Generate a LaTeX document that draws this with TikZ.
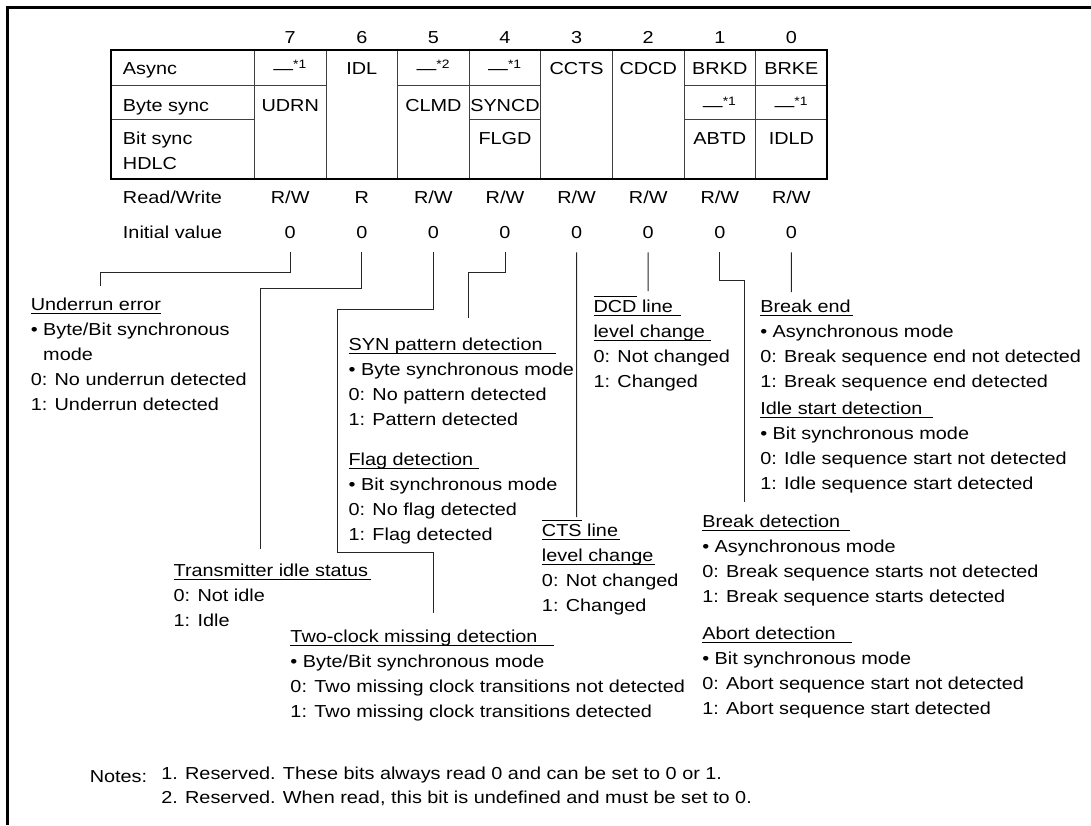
\documentclass[tikz,border=0pt]{standalone}
\usepackage{fontspec}
\setmainfont[FakeStretch=1.145]{Liberation Sans}

% underlined heading, optional extra length of the rule
\newcommand{\hd}[2][0pt]{\setbox0\hbox{#2}\rlap{\rule[-2.8pt]{\dimexpr\wd0+#1\relax}{0.6pt}}\box0\relax}
% overlined signal name
\newcommand{\ovl}[1]{\setbox0\hbox{#1}\rlap{\rule[\dimexpr\ht0+2.6pt\relax]{\wd0}{0.6pt}}\box0\relax}
% reserved bit
\newcommand{\resv}[1]{—\textsuperscript{*#1}}

\begin{document}
\begin{tikzpicture}[x=0.75pt,y=-0.75pt,
    every node/.style={inner sep=0pt,font=\fontsize{13}{18.75}\selectfont},
    cell/.style={anchor=base},
    rowlabel/.style={anchor=base west,align=left},
    desc/.style={anchor=base west,align=left},
    cellline/.style={line width=0.6pt,black!75},
    leader/.style={line width=0.75pt,black!85}]
    \useasboundingbox (0,0) rectangle (1091,825);

    % marco
    \draw[line width=2.3pt] (7.5,825) -- (7.5,7.5) -- (1091,7.5);

    % tabla de bits
    \foreach \c in {0,...,7}
        \draw[cellline] (254.4+71.6*\c,50) -- (254.4+71.6*\c,179);
    \draw[cellline] (111,85) -- (326,85) (397.6,85) -- (540.8,85) (684,85) -- (827.2,85);
    \draw[cellline] (111,119.3) -- (254.4,119.3) (469.2,119.3) -- (540.8,119.3) (684,119.3) -- (827.2,119.3);
    \draw[line width=1.7pt] (111,50) rectangle (827.2,179);

    % numeros de bit, lectura/escritura y valor inicial
    \foreach \b [count=\i from 0] in {7,...,0} {
        \node[cell] (n\b) at (290.2+71.6*\i,43.5) {\b};
        \node[cell] (rw\b) at (290.2+71.6*\i,203.3) {\ifnum\b=6 R\else R/W\fi};
        \node[cell] (v\b) at (290.2+71.6*\i,238.3) {0};
    }

    % filas (base = ultima linea)
    \node[rowlabel] (async) at (122.7,74.3) {Async};
    \node[rowlabel] (bytesync) at (122.7,111) {Byte sync};
    \node[rowlabel] (bitsync) at (122.7,169) {Bit sync\\HDLC};
    \node[rowlabel] (rwlabel) at (122.7,203.3) {Read/Write};
    \node[rowlabel] (initlabel) at (122.7,238.3) {Initial value};

    % nombres de bits
    \node[cell] (c7a) at (290.2,74.3) {\resv{1}};
    \node[cell] (c6a) at (361.8,74.3) {IDL};
    \node[cell] (c5a) at (433.4,74.3) {\resv{2}};
    \node[cell] (c4a) at (505,74.3) {\resv{1}};
    \node[cell] (c3a) at (576.6,74.3) {CCTS};
    \node[cell] (c2a) at (648.2,74.3) {CDCD};
    \node[cell] (c1a) at (719.8,74.3) {BRKD};
    \node[cell] (c0a) at (791.4,74.3) {BRKE};
    \node[cell] (c7b) at (290.2,111) {UDRN};
    \node[cell] (c5b) at (433.4,111) {CLMD};
    \node[cell] (c4b) at (505,111) {SYNCD};
    \node[cell] (c1b) at (719.8,111) {\resv{1}};
    \node[cell] (c0b) at (791.4,111) {\resv{1}};
    \node[cell] (c4c) at (505,144.3) {FLGD};
    \node[cell] (c1c) at (719.8,144.3) {ABTD};
    \node[cell] (c0c) at (791.4,144.3) {IDLD};

    % descripciones (base = ultima linea)
    \node[desc] (udrn) at (30.5,410) {\hd{Underrun error}\\• Byte/Bit synchronous\\\phantom{• }mode\\0: No underrun detected\\1: Underrun detected};
    \node[desc] (syncd) at (348.3,425) {\hd[10pt]{SYN pattern detection}\\• Byte synchronous mode\\0: No pattern detected\\1: Pattern detected};
    \node[desc] (flgd) at (348.3,540) {\hd[4.5pt]{Flag detection}\\• Bit synchronous mode\\0: No flag detected\\1: Flag detected};
    \node[desc] (cdcd) at (593.3,387) {\hd[6pt]{\ovl{DCD} line}\\\hd[4.5pt]{level change}\\0: Not changed\\1: Changed};
    \node[desc] (brke) at (760,387) {\hd[2pt]{Break end}\\• Asynchronous mode\\0: Break sequence end not detected\\1: Break sequence end detected};
    \node[desc] (idld) at (760,489) {\hd[8pt]{Idle start detection}\\• Bit synchronous mode\\0: Idle sequence start not detected\\1: Idle sequence start detected};
    \node[desc] (ccts) at (541.7,611.5) {\hd[1.5pt]{\ovl{CTS} line}\\\hd[1pt]{level change}\\0: Not changed\\1: Changed};
    \node[desc] (brkd) at (702,602.5) {\hd[7pt]{Break detection}\\• Asynchronous mode\\0: Break sequence starts not detected\\1: Break sequence starts detected};
    \node[desc] (abtd) at (702,714) {\hd[12pt]{Abort detection}\\• Bit synchronous mode\\0: Abort sequence start not detected\\1: Abort sequence start detected};
    \node[desc] (idl) at (173.4,626) {\hd[2pt]{Transmitter idle status}\\0: Not idle\\1: Idle};
    \node[desc] (clmd) at (290.2,717.5) {\hd[12pt]{Two-clock missing detection}\\• Byte/Bit synchronous mode\\0: Two missing clock transitions not detected\\1: Two missing clock transitions detected};

    % notas
    \node[desc] (notes) at (89.5,782) {Notes:};
    \node[desc,font=\fontsize{13}{18}\selectfont] (notetext) at (161,803) {1. Reserved. These bits always read 0 and can be set to 0 or 1.\\2. Reserved. When read, this bit is undefined and must be set to 0.};

    % extremos de las guias
    \coordinate (e7) at (100,286);
    \coordinate (e6) at (260,549);
    \coordinate (e5) at (433.4,613);
    \coordinate (e4) at (468,318);
    \coordinate (e3) at (576.6,517);
    \coordinate (e2) at (648.2,291);
    \coordinate (e1) at (744,502);
    \coordinate (e0) at (791.4,292);

    % guias
    \draw[leader] ([yshift=-10.3pt]v7.south) -- ++(0,20) -| (e7);
    \draw[leader] ([yshift=-10.3pt]v6.south) -- ++(0,36) -| (e6);
    \draw[leader] ([yshift=-10.3pt]v5.south) -- ++(0,57) -| (337,552) -| (e5);
    \draw[leader] ([yshift=-10.3pt]v4.south) -- ++(0,20) -| (e4);
    \draw[leader] ([yshift=-10.3pt]v3.south) -- (e3);
    \draw[leader] ([yshift=-10.3pt]v2.south) -- (e2);
    \draw[leader] ([yshift=-10.3pt]v1.south) -- ++(0,28) -| (e1);
    \draw[leader] ([yshift=-10.3pt]v0.south) -- (e0);
\end{tikzpicture}
\end{document}
